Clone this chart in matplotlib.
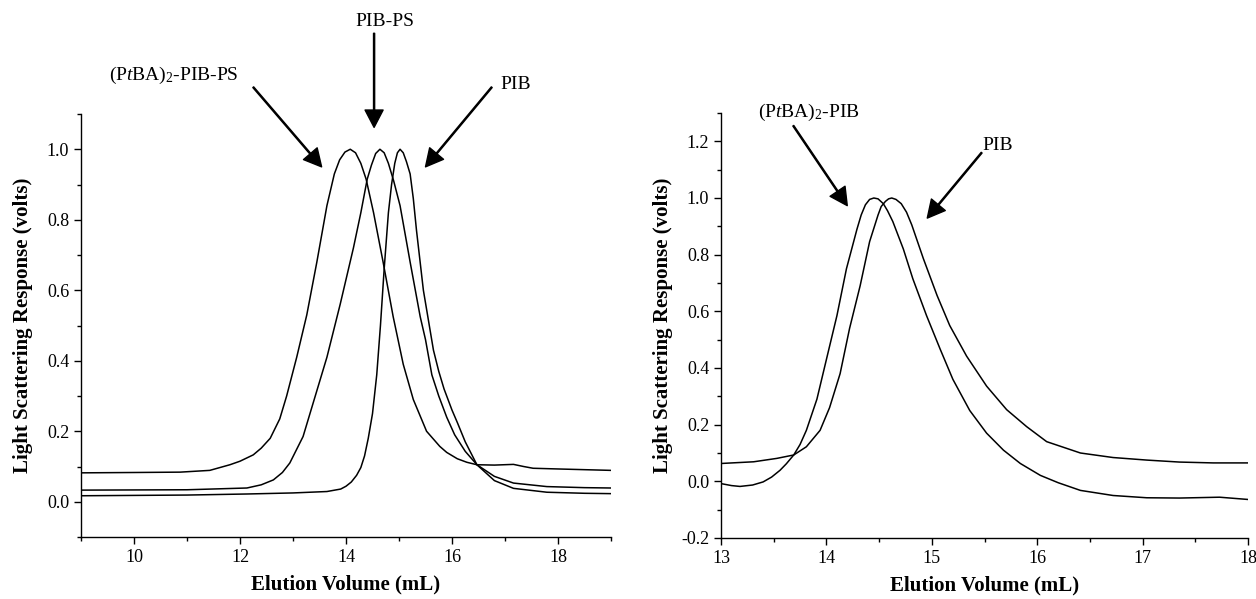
import matplotlib
matplotlib.use("Agg")
import matplotlib.pyplot as plt
from matplotlib.ticker import MultipleLocator, FormatStrFormatter

plt.rcParams['font.family'] = ['Liberation Serif', 'DejaVu Serif']
plt.rcParams['mathtext.fontset'] = 'custom'
plt.rcParams['mathtext.rm'] = 'Liberation Serif'
plt.rcParams['mathtext.it'] = 'Liberation Serif:italic'
plt.rcParams['axes.unicode_minus'] = False

# ---------------- Left panel data ----------------
tba_pib_ps_x = [9.0, 10.0, 10.87, 11.43, 11.81, 12.0, 12.25, 12.4, 12.57, 12.75, 12.88, 13.07, 13.26,
                13.45, 13.64, 13.78, 13.88, 13.98, 14.08, 14.18, 14.28, 14.38, 14.52, 14.70, 14.89,
                15.08, 15.27, 15.52, 15.77, 15.9, 16.1, 16.28, 16.47, 16.8, 17.16, 17.35, 17.53,
                18.0, 18.5, 19.0]
tba_pib_ps_y = [0.082, 0.083, 0.084, 0.089, 0.105, 0.115, 0.133, 0.152, 0.18, 0.235, 0.30, 0.41, 0.53,
                0.68, 0.84, 0.93, 0.97, 0.992, 1.0, 0.99, 0.96, 0.915, 0.82, 0.68, 0.525,
                0.39, 0.29, 0.20, 0.157, 0.14, 0.122, 0.112, 0.105, 0.104, 0.106, 0.10, 0.095,
                0.093, 0.091, 0.089]

pib_ps_x = [9.0, 11.0, 12.13, 12.4, 12.63, 12.8, 12.94, 13.19, 13.38, 13.64, 13.89, 14.14, 14.28,
            14.4, 14.48, 14.56, 14.64, 14.72, 14.8, 14.9, 15.02, 15.21, 15.40, 15.5, 15.62, 15.75,
            15.9, 16.05, 16.25, 16.47, 16.8, 17.16, 17.79, 18.5, 19.0]
pib_ps_y = [0.033, 0.034, 0.039, 0.048, 0.062, 0.083, 0.11, 0.185, 0.28, 0.41, 0.56, 0.72, 0.82,
            0.915, 0.955, 0.988, 1.0, 0.99, 0.96, 0.91, 0.84, 0.68, 0.525, 0.46, 0.36, 0.30,
            0.24, 0.19, 0.143, 0.105, 0.072, 0.053, 0.043, 0.040, 0.039]

pib1_x = [9.0, 11.0, 12.13, 13.0, 13.64, 13.9, 14.0, 14.1, 14.2, 14.28, 14.35, 14.42, 14.5, 14.58,
          14.65, 14.72, 14.8, 14.86, 14.92, 14.97, 15.02, 15.08, 15.14, 15.21, 15.27, 15.33,
          15.46, 15.65, 15.75, 15.85, 16.0, 16.1, 16.25, 16.47, 16.8, 17.16, 17.79, 18.5, 19.0]
pib1_y = [0.017, 0.019, 0.022, 0.025, 0.029, 0.036, 0.044, 0.056, 0.075, 0.097, 0.13, 0.18, 0.25,
          0.36, 0.50, 0.66, 0.82, 0.90, 0.96, 0.99, 1.0, 0.99, 0.965, 0.93, 0.86, 0.77,
          0.60, 0.43, 0.37, 0.32, 0.26, 0.225, 0.17, 0.105, 0.06, 0.038, 0.027, 0.024, 0.023]

# ---------------- Right panel data ----------------
tba_pib_x = [13.0, 13.1, 13.18, 13.3, 13.40, 13.48, 13.56, 13.62, 13.69, 13.75, 13.81, 13.91, 14.0,
             14.10, 14.19, 14.29, 14.33, 14.37, 14.41, 14.45, 14.49, 14.54, 14.58, 14.63, 14.73,
             14.82, 14.95, 15.08, 15.20, 15.36, 15.52, 15.68, 15.84, 16.03, 16.2, 16.41, 16.72,
             17.04, 17.35, 17.73, 18.0]
tba_pib_y = [-0.008, -0.015, -0.018, -0.013, -0.002, 0.015, 0.039, 0.062, 0.093, 0.13, 0.18, 0.29,
             0.43, 0.585, 0.75, 0.89, 0.94, 0.976, 0.995, 1.0, 0.997, 0.98, 0.955, 0.917, 0.82,
             0.715, 0.585, 0.466, 0.36, 0.25, 0.17, 0.11, 0.063, 0.021, -0.005, -0.032, -0.05,
             -0.058, -0.059, -0.056, -0.064]

pib2_x = [13.0, 13.31, 13.53, 13.69, 13.81, 13.94, 14.03, 14.13, 14.22, 14.32, 14.41, 14.49, 14.52,
          14.56, 14.59, 14.62, 14.66, 14.71, 14.76, 14.81, 14.92, 15.05, 15.17, 15.33, 15.52,
          15.71, 15.90, 16.09, 16.41, 16.72, 17.04, 17.35, 17.67, 18.0]
pib2_y = [0.063, 0.069, 0.081, 0.093, 0.122, 0.18, 0.26, 0.38, 0.54, 0.69, 0.846, 0.94, 0.97,
          0.988, 0.997, 1.0, 0.995, 0.98, 0.95, 0.905, 0.786, 0.656, 0.55, 0.442, 0.336,
          0.253, 0.193, 0.14, 0.10, 0.084, 0.075, 0.068, 0.065, 0.065]

left_labels = [r'(P$\mathit{t}$BA)$_2$-PIB-PS', 'PIB-PS', 'PIB']
right_labels = [r'(P$\mathit{t}$BA)$_2$-PIB', 'PIB']

fig = plt.figure(figsize=(12.56, 5.99), dpi=100)
ax1 = fig.add_axes([81/1256, 1-537/599, (611-81)/1256, (537-114)/599])
ax2 = fig.add_axes([721/1256, 1-538/599, (1248-721)/1256, (538-113)/599])

lw = 1.1
for x, y in [(tba_pib_ps_x, tba_pib_ps_y), (pib_ps_x, pib_ps_y), (pib1_x, pib1_y)]:
    ax1.plot(x, y, color='black', lw=lw)
for x, y in [(tba_pib_x, tba_pib_y), (pib2_x, pib2_y)]:
    ax2.plot(x, y, color='black', lw=lw)

ax1.set_xlim(9, 19)
ax1.set_ylim(-0.1, 1.1)
ax1.xaxis.set_major_locator(MultipleLocator(2))
ax1.xaxis.set_minor_locator(MultipleLocator(1))
ax1.yaxis.set_major_locator(MultipleLocator(0.2))
ax1.yaxis.set_minor_locator(MultipleLocator(0.1))
ax1.yaxis.set_major_formatter(FormatStrFormatter('%.1f'))

ax2.set_xlim(13, 18)
ax2.set_ylim(-0.2, 1.3)
ax2.xaxis.set_major_locator(MultipleLocator(1))
ax2.xaxis.set_minor_locator(MultipleLocator(0.5))
ax2.yaxis.set_major_locator(MultipleLocator(0.2))
ax2.yaxis.set_minor_locator(MultipleLocator(0.1))
ax2.yaxis.set_major_formatter(FormatStrFormatter('%.1f'))

for ax, lp in ((ax1, 10), (ax2, 6)):
    for s in ('top', 'right'):
        ax.spines[s].set_visible(False)
    for s in ('left', 'bottom'):
        ax.spines[s].set_linewidth(1.0)
    ax.tick_params(which='major', direction='out', length=5, width=1.0, labelsize=13)
    ax.tick_params(which='minor', direction='out', length=3, width=1.0)
    ax.set_xlabel('Elution Volume (mL)', fontsize=15, fontweight='bold', labelpad=6)
    ax.set_ylabel('Light Scattering Response (volts)', fontsize=15, fontweight='bold', labelpad=lp)

arrow = dict(width=0.8, headwidth=13, headlength=12.5, facecolor='black', edgecolor='black', shrink=0)

# Left annotations
ax1.text(10.75, 1.21, left_labels[0], fontsize=14, ha='center', va='center', clip_on=False)
ax1.annotate('', xy=(13.54, 0.95), xytext=(12.25, 1.176), annotation_clip=False, arrowprops=arrow)
ax1.text(14.74, 1.363, left_labels[1], fontsize=14, ha='center', va='center', clip_on=False)
ax1.annotate('', xy=(14.53, 1.062), xytext=(14.53, 1.329), annotation_clip=False, arrowprops=arrow)
ax1.text(16.92, 1.185, left_labels[2], fontsize=14, ha='left', va='center', clip_on=False)
ax1.annotate('', xy=(15.50, 0.95), xytext=(16.75, 1.176), annotation_clip=False, arrowprops=arrow)

# Right annotations
ax2.text(13.835, 1.302, right_labels[0], fontsize=14, ha='center', va='center', clip_on=False)
ax2.annotate('', xy=(14.198, 0.973), xytext=(13.686, 1.255), annotation_clip=False, arrowprops=arrow)
ax2.text(15.623, 1.184, right_labels[1], fontsize=14, ha='center', va='center', clip_on=False)
ax2.annotate('', xy=(14.957, 0.929), xytext=(15.473, 1.16), annotation_clip=False, arrowprops=arrow)

fig.savefig('out.png', dpi=100)
